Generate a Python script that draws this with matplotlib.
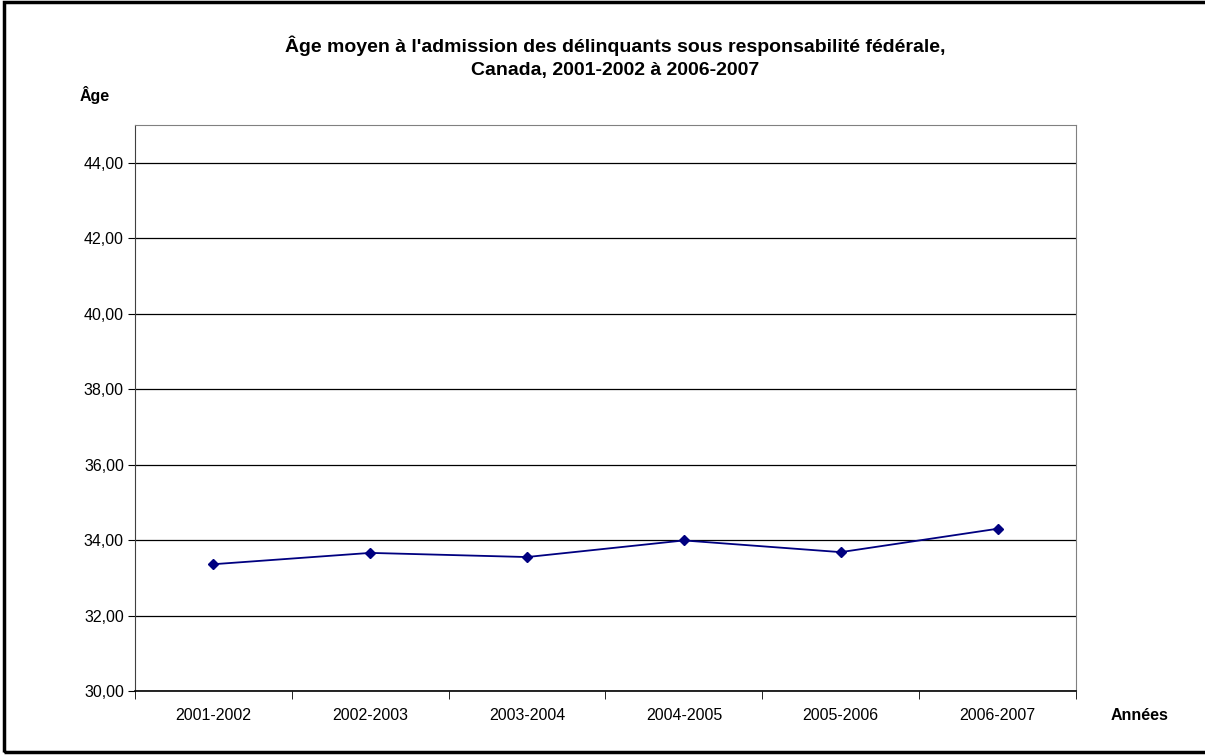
import matplotlib.pyplot as plt
from matplotlib.patches import Rectangle

plt.rcParams['font.family'] = ['Liberation Sans', 'DejaVu Sans']

annees = ['2001-2002', '2002-2003', '2003-2004', '2004-2005', '2005-2006', '2006-2007']
age_moyen = [33.36, 33.66, 33.55, 33.99, 33.68, 34.30]
yticks = [30, 32, 34, 36, 38, 40, 42, 44]

fig = plt.figure(figsize=(12.05, 7.56), dpi=100)
ax = fig.add_axes([135 / 1205, 65 / 756, 941 / 1205, 566 / 756])

x = list(range(len(annees)))
ax.plot(x, age_moyen, color='#000080', lw=1.3, marker='D', ms=5.5, zorder=3)

ax.set_xlim(-0.5, len(annees) - 0.5)
ax.set_ylim(30, 45)
ax.set_yticks(yticks)
ax.set_yticklabels([('%.2f' % v).replace('.', ',') for v in yticks])
ax.grid(axis='y', color='black', lw=0.9)
ax.set_axisbelow(True)

# catégories : libellés au centre, traits aux séparations
ax.set_xticks(x)
ax.set_xticklabels(annees)
ax.tick_params(axis='x', length=0, pad=12)
ax.set_xticks([i - 0.5 for i in range(len(annees) + 1)], minor=True)
ax.tick_params(axis='x', which='minor', length=6, color='black')
ax.tick_params(axis='y', length=5, color='black', pad=3)
ax.tick_params(labelsize=11.5)

for s in ['top', 'right']:
    ax.spines[s].set_color('#808080')
ax.spines['left'].set_color('#404040')
ax.spines['bottom'].set_color('black')
ax.spines['bottom'].set_linewidth(1.2)

fig.text(615 / 1205, 1 - 46 / 756,
         "Âge moyen à l'admission des délinquants sous responsabilité fédérale,",
         ha='center', va='center', fontsize=14, fontweight='bold')
fig.text(615 / 1205, 1 - 70 / 756, "Canada, 2001-2002 à 2006-2007",
         ha='center', va='center', fontsize=14, fontweight='bold')
fig.text(80 / 1205, 1 - 95 / 756, 'Âge', ha='left', va='center',
         fontsize=11.5, fontweight='bold')
fig.text(1111 / 1205, 1 - 716 / 756, 'Années', ha='left', va='center',
         fontsize=11.5, fontweight='bold')

fig.patches.append(Rectangle((4 / 1205, 4 / 756), 1210 / 1205, 750 / 756,
                             transform=fig.transFigure, fill=False,
                             edgecolor='black', lw=2.5))

fig.savefig('out.png', dpi=100)
